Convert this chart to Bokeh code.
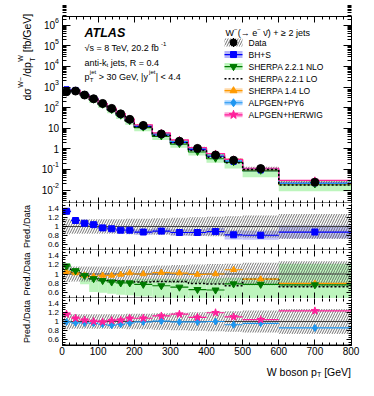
import numpy as np
from math import pi
from bokeh.plotting import figure
from bokeh.layouts import column
from bokeh.models import (Range1d, LinearAxis, LogAxis, FixedTicker, SingleIntervalTicker,
                          CustomJSTickFormatter, Label)
from bokeh.embed import file_html
from bokeh.resources import INLINE

FONT = "Liberation Sans"

# ---------------- data ----------------
bin_edges = [0, 25, 50, 75, 100, 125, 150, 175, 200, 250, 300, 350, 400, 450, 500, 600, 800]
data_xsec = [590, 640, 410, 270, 160, 92, 50, 27, 13.7, 5.3, 2.35, 1.05, 0.50, 0.28, 0.11, 0.024]
data_rel_unc = [0.17, 0.16, 0.16, 0.16, 0.16, 0.16, 0.16, 0.17, 0.17, 0.18, 0.19, 0.20, 0.21, 0.22, 0.24, 0.27]
ratio_bhs = [1.33, 1.13, 1.07, 1.04, 0.97, 0.95, 0.92, 0.92, 0.88, 0.90, 0.87, 0.87, 0.89, 0.82, 0.81, 0.88]
ratio_bhs_unc = [0.04, 0.04, 0.04, 0.04, 0.05, 0.05, 0.05, 0.05, 0.06, 0.06, 0.07, 0.07, 0.08, 0.10, 0.10, 0.14]
ratio_nlo = [1.17, 1.07, 0.97, 0.90, 0.86, 0.83, 0.81, 0.81, 0.78, 0.75, 0.72, 0.67, 0.66, 0.79, 0.78, 0.77]
ratio_nlo_low = [1.06, 0.98, 0.78, 0.62, 0.60, 0.58, 0.56, 0.55, 0.52, 0.50, 0.48, 0.45, 0.42, 0.40, 0.38, 0.36]
ratio_nlo_high = [1.22, 1.12, 1.00, 0.93, 0.90, 0.88, 0.88, 0.88, 0.90, 0.90, 0.90, 0.90, 0.91, 0.92, 0.92, 1.22]
ratio_lo221 = [1.10, 1.03, 0.96, 0.90, 0.88, 0.86, 0.85, 0.84, 0.83, 0.84, 0.84, 0.80, 0.79, 0.75, 0.89, 0.73]
ratio_s14 = [1.05, 1.02, 0.97, 0.95, 0.97, 0.97, 0.99, 1.02, 1.00, 1.03, 1.02, 0.99, 1.00, 1.09, 0.89, 0.80]
ratio_py6 = [0.99, 0.97, 0.97, 0.96, 0.94, 0.92, 0.94, 0.97, 0.99, 1.01, 0.99, 0.99, 1.00, 0.93, 0.96, 0.86]
ratio_herwig = [1.16, 1.07, 1.03, 1.00, 0.99, 1.02, 1.03, 1.07, 1.07, 1.12, 1.16, 1.09, 1.19, 1.10, 1.04, 1.23]
main_exponents = [-2, -1, 0, 1, 2, 3, 4, 5, 6]
ratio_ticks = [0.6, 0.8, 1.0, 1.2, 1.4]
legend_labels = ["Data", "BH+S", "SHERPA 2.2.1 NLO", "SHERPA 2.2.1 LO",
                 "SHERPA 1.4 LO", "ALPGEN+PY6", "ALPGEN+HERWIG"]

# ---------------- colours ----------------
C_BLUE = "#0000ff"; C_BLUE_BAND = "#b4b4f8"
C_GREEN = "#007a00"; C_GREEN_BAND = "#bdf5bd"
C_ORANGE = "#ff9a00"; C_ORANGE_PALE = "#ffd9a8"
C_PY6 = "#1e96f0"; C_PY6_PALE = "#a8d4ff"
C_HW = "#ff1f9a"; C_HW_PALE = "#ff9fd6"
C_HATCH = "#505050"

# ---------------- geometry (page pixels) ----------------
FIG_W = 368
FRAME_L, FRAME_R = 61.5, 350.5
X0, X1 = 0, 800
MAIN_LINES = (15.5, 202.5)
PANEL_LINES = [(202.5, 249.5), (249.5, 297.5), (297.5, 344.5)]
CANVAS = [(0, 203), (203, 250), (250, 298), (298, 380)]
LOG_HI, LOG_LO = 6.45, -2.63
R_LO, R_HI = 0.49, 1.51

W_TAB = {' ': 278, '(': 333, ')': 333, '+': 584, ',': 278, '-': 333, '.': 278, '/': 278,
         '<': 584, '=': 584, '>': 584, '[': 278, ']': 278, '|': 260, 'A': 667, 'D': 722,
         'E': 667, 'G': 778, 'H': 722, 'L': 556, 'P': 667, 'R': 722, 'S': 667, 'T': 611,
         'V': 667, 'W': 944, 'a': 556, 'b': 556, 'd': 556, 'e': 556, 'f': 278, 'i': 222,
         'j': 222, 'k': 500, 'n': 556, 'o': 556, 'p': 556, 's': 500, 't': 278, 'y': 500,
         'σ': 600, '√': 549, '−': 584, '→': 1000, '≥': 549, 'ν': 500, '\u0304': 0}


def tw(s, size):
    return sum(W_TAB.get(c, 556) for c in s) * size / 1000.0


def gx(px):
    return X0 + (px - FRAME_L) * (X1 - X0) / (FRAME_R - FRAME_L)


def gy_main(py):
    t, b = MAIN_LINES
    return 10 ** (LOG_HI - (py - t) * (LOG_HI - LOG_LO) / (b - t))


def py_main(v):
    t, b = MAIN_LINES
    return t + (LOG_HI - np.log10(v)) * (b - t) / (LOG_HI - LOG_LO)


def gy_panel(i, py):
    t, b = PANEL_LINES[i]
    return R_HI - (py - t) * (R_HI - R_LO) / (b - t)


edges = np.array(bin_edges, dtype=float)
lefts, rights = edges[:-1], edges[1:]
centers = 0.5 * (lefts + rights)
d = np.array(data_xsec)
u = np.array(data_rel_unc)


def steps(vals):
    return np.repeat(edges, 2)[1:-1], np.repeat(np.asarray(vals, dtype=float), 2)


def style(ax, tin=6, tmin=3, show=True, size="10px", standoff=3, line=True):
    ax.major_tick_in = int(tin)
    ax.major_tick_out = 0
    ax.minor_tick_in = int(tmin)
    ax.minor_tick_out = 0
    ax.axis_line_color = "black" if line else None
    ax.major_tick_line_color = "black"
    ax.minor_tick_line_color = "black"
    ax.major_label_text_font = FONT
    if show:
        ax.major_label_text_font_size = size
        ax.major_label_standoff = standoff
        ax.major_label_text_color = "black"
    else:
        ax.major_label_text_font_size = "0px"
        ax.major_label_standoff = 0
        ax.formatter = CustomJSTickFormatter(code="return ''")


def make_fig(canvas, yfun, log=False):
    top, bot = canvas
    p = figure(width=FIG_W, height=bot - top,
               x_range=Range1d(gx(0), gx(FIG_W)), y_range=Range1d(yfun(bot), yfun(top)),
               y_axis_type="log" if log else "linear",
               x_axis_location=None, y_axis_location=None,
               toolbar_location=None, output_backend="svg")
    p.min_border = 0
    p.min_border_left = 0
    p.min_border_right = 0
    p.min_border_top = 0
    p.min_border_bottom = 0
    p.outline_line_color = None
    p.background_fill_color = "white"
    p.border_fill_color = "white"
    p.title.visible = False
    p.grid.visible = False
    return p


def add_axes(p, ylo, yhi, yticker, log, show_x, top_line, ylen=(6, 3), ylabels=False):
    for loc, fl in (("below", ylo), ("above", yhi)):
        ax = LinearAxis(ticker=SingleIntervalTicker(interval=100, num_minor_ticks=5),
                        fixed_location=fl, bounds=(X0, X1))
        style(ax, 6, 3, show=(loc == "below" and show_x), size="10px", standoff=2,
              line=(loc == "below" or top_line))
        p.add_layout(ax, loc)
    axes = {}
    for loc, fl in (("left", X0), ("right", X1)):
        cls = LogAxis if log else LinearAxis
        ax = cls(ticker=yticker, fixed_location=fl, bounds=(ylo, yhi))
        style(ax, ylen[0], ylen[1], show=(loc == "left" and ylabels), size="8px", standoff=3)
        p.add_layout(ax, loc)
        axes[loc] = ax
    # explicit bottom frame line of the panel
    p.segment(x0=[X0], y0=[ylo], x1=[X1], y1=[ylo], line_color="black", line_width=1)
    return axes


def lab(p, x, y, text, size, align="left", baseline="alphabetic", angle=0, fstyle="normal"):
    p.add_layout(Label(x=x, y=y, text=text, text_font=FONT, text_font_size=f"{size}px",
                       text_font_style=fstyle, text_color="black", text_align=align,
                       text_baseline=baseline, angle=angle))


# ================= main panel =================
pm = make_fig(CANVAS[0], gy_main, log=True)
main_ticks = [10.0 ** e for e in main_exponents]
main_minor = [k * 10.0 ** e for e in range(-3, 7) for k in range(2, 10)]
add_axes(pm, 10 ** LOG_LO, 10 ** LOG_HI, FixedTicker(ticks=main_ticks, minor_ticks=main_minor),
         True, False, True, ylen=(8, 4))

bhs = np.array(ratio_bhs)
pm.quad(left=lefts, right=rights, bottom=d * np.array(ratio_nlo_low), top=d * np.array(ratio_nlo_high),
        fill_color=C_GREEN_BAND, line_color=None)
pm.quad(left=lefts, right=rights, bottom=d * (bhs - np.array(ratio_bhs_unc)),
        top=d * (bhs + np.array(ratio_bhs_unc)), fill_color=C_BLUE_BAND, fill_alpha=0.8, line_color=None)
pm.quad(left=lefts, right=rights, bottom=d * (1 - u), top=d * (1 + u), fill_color=None, line_color=None,
        hatch_pattern="/", hatch_color=C_HATCH, hatch_scale=5, hatch_weight=0.8)

series = [
    (ratio_bhs, C_BLUE, "square", 5),
    (ratio_nlo, C_GREEN, "inverted_triangle", 6),
    (ratio_s14, C_ORANGE, "triangle", 5),
    (ratio_py6, C_PY6, "diamond", 6),
    (ratio_herwig, C_HW, "star", 7),
]
for r, col, mk, sz in series:
    sx, sy = steps(d * np.array(r))
    pm.line(sx, sy, line_color=col, line_width=1.2)
sx, sy = steps(d * np.array(ratio_lo221))
pm.line(sx, sy, line_color="black", line_width=1.5, line_dash="2 2")
for r, col, mk, sz in series:
    pm.scatter(centers, d * np.array(r), marker=mk, size=sz, fill_color=col, line_color=col)

pm.segment(x0=centers, y0=d * (1 - u), x1=centers, y1=d * (1 + u), line_color="black", line_width=1)
pm.scatter(centers, d, marker="circle", size=8, fill_color="black", line_color="black")

# y tick labels (10^n)
TICK_R = 58.5
for e in main_exponents:
    v = 10.0 ** e
    if e == 0:
        lab(pm, gx(TICK_R), v, "1", 10, align="right", baseline="middle")
    elif e == 1:
        lab(pm, gx(TICK_R), v, "10", 10, align="right", baseline="middle")
    else:
        es = str(e)
        we = tw(es, 7)
        lab(pm, gx(TICK_R - we), gy_main(py_main(v) - 4.5), es, 7, align="left", baseline="middle")
        lab(pm, gx(TICK_R - we), v, "10", 10, align="right", baseline="middle")

# y axis title (rotated, reading upwards); each piece centred on its own span and column
pos = 100.0
def rlab(text, size, px, py_start):
    c = py_start - tw(text, size) / 2.0
    lab(pm, gx(px), gy_main(c), text, size, align="center", baseline="middle", angle=pi / 2)
MAIN_C, SUP_C, SUB_C = 26.0, 19.5, 31.5
rlab("dσ", 10.5, MAIN_C, pos); pos -= tw("dσ", 10.5) + 0.5
rlab("W−", 7, SUP_C, pos); pos -= tw("W−", 7) + 0.5
rlab("/dp", 10.5, MAIN_C, pos); pos -= tw("/dp", 10.5) + 0.3
rlab("W", 7, SUP_C, pos); rlab("T", 7, SUB_C, pos); pos -= tw("W", 7) + tw(" ", 10.5)
rlab("[fb/GeV]", 10.5, MAIN_C, pos)

# ATLAS block
XT = 84
lab(pm, gx(XT), gy_main(32), "ATLAS", 12.5, fstyle="bold italic")
t = "√s = 8 TeV, 20.2 fb"
lab(pm, gx(XT), gy_main(47.5), t, 9)
lab(pm, gx(XT + tw(t, 9) + 0.3), gy_main(43.5), "-1", 6)
x = XT
lab(pm, gx(x), gy_main(62), "anti-k", 9); x += tw("anti-k", 9)
lab(pm, gx(x), gy_main(64.5), "t", 6); x += tw("t", 6) + tw(" ", 9)
lab(pm, gx(x), gy_main(62), "jets, R = 0.4", 9)
x = XT
lab(pm, gx(x), gy_main(76), "p", 9); x += tw("p", 9) + 0.3
lab(pm, gx(x), gy_main(79), "T", 6)
lab(pm, gx(x), gy_main(71.5), "jet", 6); x += max(tw("T", 6), tw("jet", 6)) + tw(" ", 9)
lab(pm, gx(x), gy_main(76), "> 30 GeV, |y", 9); x += tw("> 30 GeV, |y", 9) + 0.3
lab(pm, gx(x), gy_main(71.5), "jet", 6); x += tw("jet", 6) + 0.3
lab(pm, gx(x), gy_main(76), "| < 4.4", 9)

# legend
x = 225.0
lab(pm, gx(x), gy_main(32), "W", 9); x += tw("W", 9)
lab(pm, gx(x), gy_main(28), "−", 6); x += tw("−", 6) + 0.3
lab(pm, gx(x), gy_main(32), "(→ e", 9); x += tw("(→ e", 9)
lab(pm, gx(x), gy_main(28), "−", 6); x += tw("−", 6) + tw(" ", 9)
lab(pm, gx(x), gy_main(32), "ν\u0304) + ≥ 2 jets", 9)

LX0, LX1, LXC, LXT = 224, 242, 233, 248
rows = [42 + 12.05 * i for i in range(len(legend_labels))]
for cy, text in zip(rows, legend_labels):
    lab(pm, gx(LXT), gy_main(cy), text, 8.5, baseline="middle")

def lbox(cy, h, **kw):
    pm.quad(left=[gx(LX0)], right=[gx(LX1)], bottom=[gy_main(cy + h)], top=[gy_main(cy - h)], **kw)
def lline(cy, **kw):
    pm.segment(x0=[gx(LX0)], y0=[gy_main(cy)], x1=[gx(LX1)], y1=[gy_main(cy)], **kw)
def lmark(cy, **kw):
    pm.scatter([gx(LXC)], [gy_main(cy)], **kw)

cy = rows[0]
lbox(cy, 4, fill_color=None, line_color=None, hatch_pattern="/", hatch_color=C_HATCH, hatch_scale=5, hatch_weight=0.8)
pm.segment(x0=[gx(LXC)], y0=[gy_main(cy + 4.5)], x1=[gx(LXC)], y1=[gy_main(cy - 4.5)], line_color="black")
lmark(cy, marker="circle", size=7, fill_color="black", line_color="black")
cy = rows[1]
lbox(cy, 3.5, fill_color=C_BLUE_BAND, line_color=None)
lline(cy, line_color=C_BLUE, line_width=1.2)
lmark(cy, marker="square", size=6, fill_color=C_BLUE, line_color=C_BLUE)
cy = rows[2]
lbox(cy, 3.5, fill_color=C_GREEN_BAND, line_color=None)
lline(cy, line_color=C_GREEN, line_width=1.2)
lmark(cy, marker="inverted_triangle", size=7, fill_color=C_GREEN, line_color=C_GREEN)
cy = rows[3]
lline(cy, line_color="black", line_width=1.5, line_dash="2 2")
cy = rows[4]
lbox(cy, 2.5, fill_color=C_ORANGE_PALE, line_color=None)
lline(cy, line_color=C_ORANGE, line_width=1.2)
lmark(cy, marker="triangle", size=7, fill_color=C_ORANGE, line_color=C_ORANGE)
cy = rows[5]
lbox(cy, 2.5, fill_color=C_PY6_PALE, line_color=None)
lline(cy, line_color=C_PY6, line_width=1.2)
lmark(cy, marker="diamond", size=8, fill_color=C_PY6, line_color=C_PY6)
cy = rows[6]
lbox(cy, 2.5, fill_color=C_HW_PALE, line_color=None)
lline(cy, line_color=C_HW, line_width=1.2)
lmark(cy, marker="star", size=9, fill_color=C_HW, line_color=C_HW)

# ================= ratio panels =================
panels = []
minor = [round(0.5 + 0.05 * k, 2) for k in range(21)]
for i in range(3):
    yfun = (lambda py, i=i: gy_panel(i, py))
    p = make_fig(CANVAS[i + 1], yfun)
    axes = add_axes(p, R_LO, R_HI, FixedTicker(ticks=ratio_ticks, minor_ticks=minor), False,
                    i == 2, False, ylen=(5, 3), ylabels=True)
    axes["left"].formatter = CustomJSTickFormatter(code="return (Math.round(tick*10)/10).toString()")
    lab(p, gx(26.0), 0.5 * (R_LO + R_HI), "Pred./Data", 9, align="center",
        baseline="middle", angle=pi / 2)
    panels.append(p)


def clip(a):
    return np.clip(np.asarray(a, dtype=float), R_LO, R_HI)


def ratio_hatch(p):
    p.quad(left=lefts, right=rights, bottom=clip(1 - u), top=clip(1 + u), fill_color=None, line_color=None,
           hatch_pattern="/", hatch_color=C_HATCH, hatch_scale=5, hatch_weight=0.8)
    p.segment(x0=[edges[0]], y0=[1.0], x1=[edges[-1]], y1=[1.0], line_color="#404040", line_width=1)


def ratio_series(p, r, col, mk, sz):
    r = np.array(r)
    p.segment(x0=lefts, y0=r, x1=rights, y1=r, line_color=col, line_width=1.2)
    p.scatter(centers, r, marker=mk, size=sz, fill_color=col, line_color=col)


p1, p2, p3 = panels
p1.quad(left=lefts, right=rights, bottom=clip(bhs - np.array(ratio_bhs_unc)),
        top=clip(bhs + np.array(ratio_bhs_unc)), fill_color=C_BLUE_BAND, fill_alpha=0.8, line_color=None)
ratio_hatch(p1)
ratio_series(p1, ratio_bhs, C_BLUE, "square", 6)

p2.quad(left=lefts, right=rights, bottom=clip(ratio_nlo_low), top=clip(ratio_nlo_high),
        fill_color=C_GREEN_BAND, line_color=None)
ratio_hatch(p2)
sx, sy = steps(ratio_lo221)
p2.line(sx, sy, line_color="black", line_width=1.5, line_dash="2 2")
ratio_series(p2, ratio_s14, C_ORANGE, "triangle", 6)
ratio_series(p2, ratio_nlo, C_GREEN, "inverted_triangle", 7)

ratio_hatch(p3)
ratio_series(p3, ratio_py6, C_PY6, "diamond", 7)
ratio_series(p3, ratio_herwig, C_HW, "star", 8)

# x-axis title
x = FRAME_R - (tw("W boson p", 10.5) + tw("T", 7) + tw(" ", 10.5) + tw("[GeV]", 10.5))
lab(p3, gx(x), gy_panel(2, 371), "W boson p", 10.5); x += tw("W boson p", 10.5)
lab(p3, gx(x), gy_panel(2, 374), "T", 7); x += tw("T", 7) + tw(" ", 10.5)
lab(p3, gx(x), gy_panel(2, 371), "[GeV]", 10.5)

layout = column(pm, p1, p2, p3, spacing=0)
open("out.html", "w").write(file_html(layout, INLINE))
